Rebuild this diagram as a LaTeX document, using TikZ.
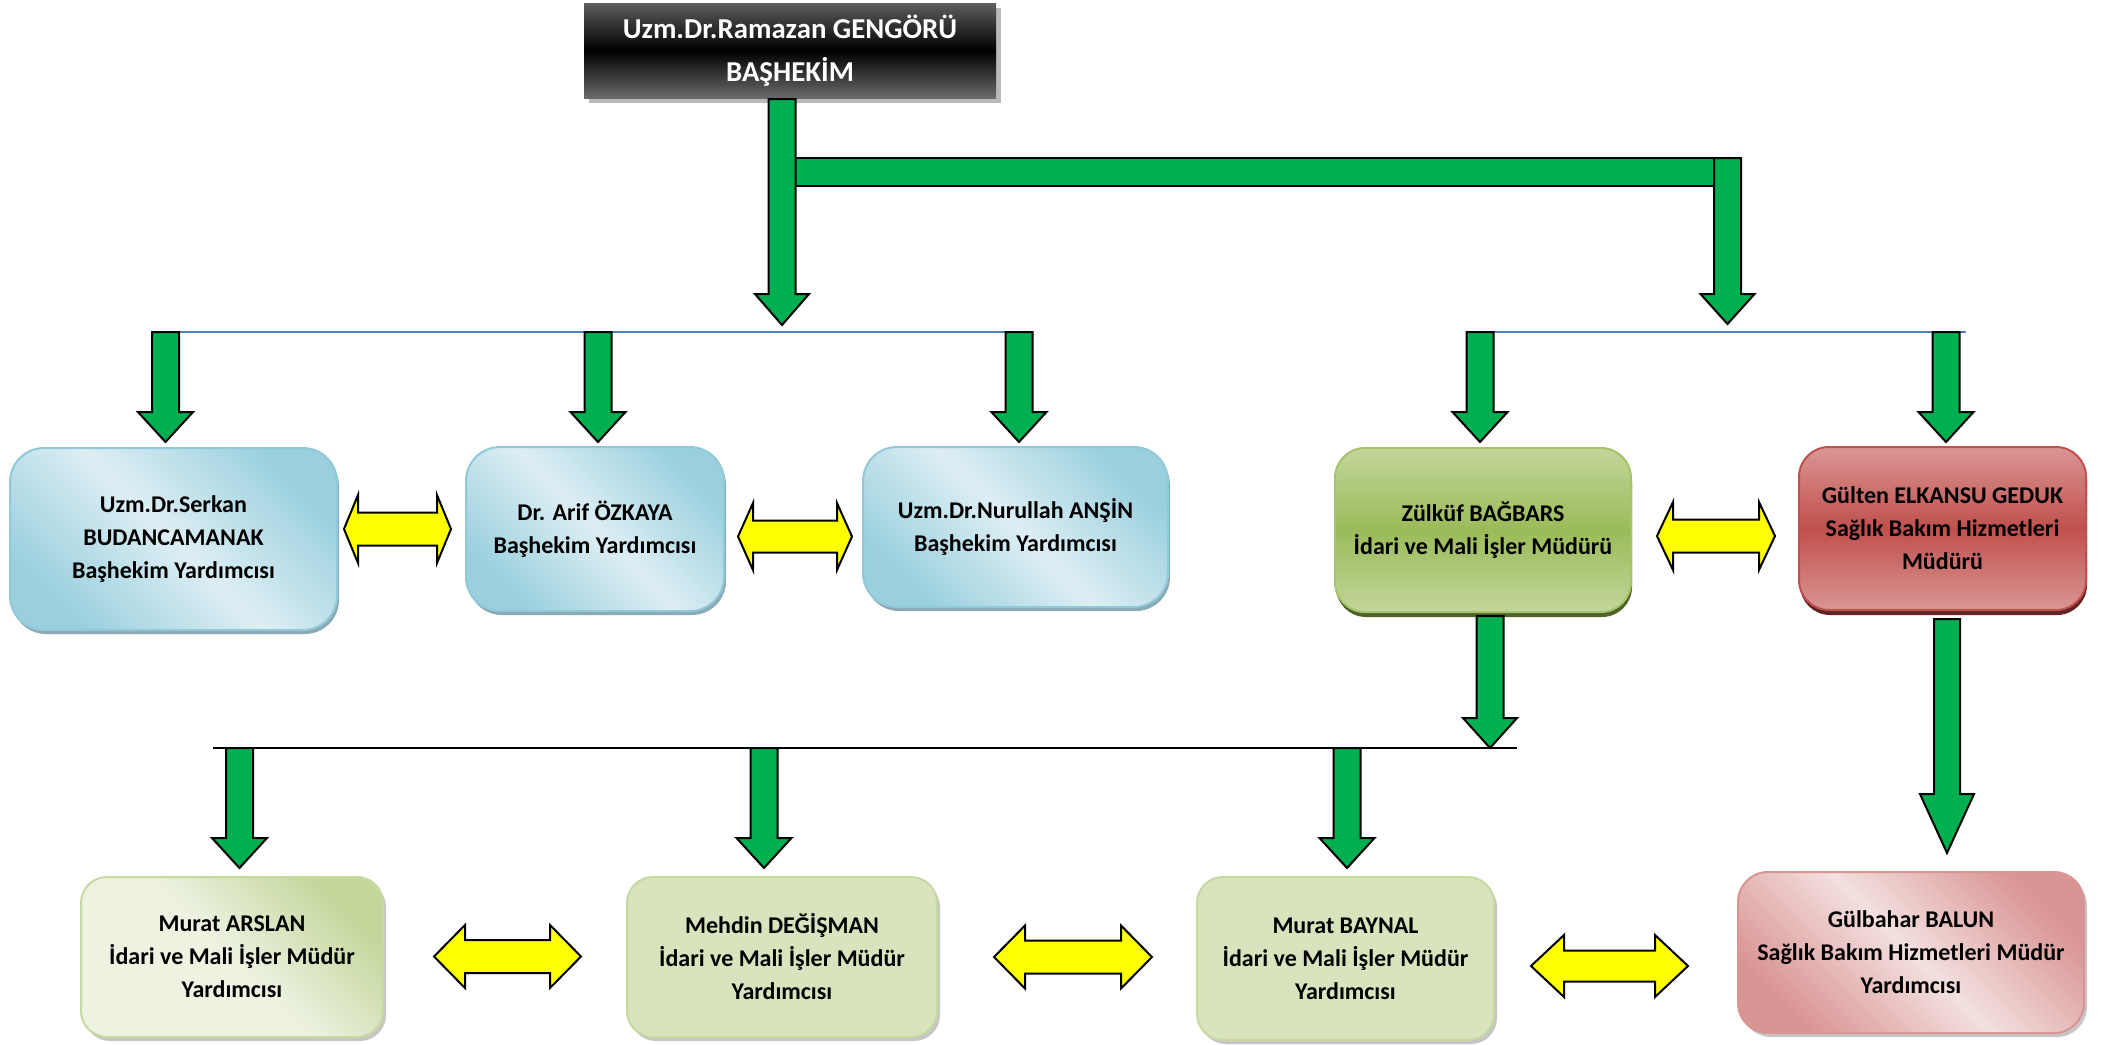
\documentclass[tikz,border=0pt]{standalone}
\usepackage{fontspec}
\setmainfont{Carlito}
\usetikzlibrary{calc,shadows}
\definecolor{garrowc}{HTML}{00B050}
\definecolor{yarrowc}{HTML}{FFFF00}
\definecolor{blueL}{HTML}{DDEEF4}
\definecolor{blueD}{HTML}{9AD0DE}
\definecolor{blueB}{HTML}{92C9D8}
\definecolor{blueS}{HTML}{8AAAB6}
\definecolor{greenL}{HTML}{C3D69B}
\definecolor{greenM}{HTML}{9BBB59}
\definecolor{greenB}{HTML}{A6C46A}
\definecolor{greenS}{HTML}{4F6228}
\definecolor{redL}{HTML}{DA9694}
\definecolor{redM}{HTML}{C0504D}
\definecolor{redB}{HTML}{C0504D}
\definecolor{redS}{HTML}{632523}
\definecolor{lgL}{HTML}{EDF2E1}
\definecolor{lgM}{HTML}{D7E4BD}
\definecolor{lgB}{HTML}{C6D9A0}
\definecolor{pkL}{HTML}{F3E0DF}
\definecolor{pkD}{HTML}{D99594}
\definecolor{topG}{HTML}{5E5E5E}
\definecolor{botG}{HTML}{6A6A6A}
\definecolor{lineBlue}{HTML}{4F81BD}
% green down arrow: #1 start, #2 tip, #3 half shaft, #4 half head, #5 head length (pt)
\newcommand\gdn[5]{%
  \draw[garr] let \p1=(#1), \p2=(#2) in
    (\x2-#3,\y1) -- (\x2+#3,\y1) -- (\x2+#3,\y2+#5) -- (\x2+#4,\y2+#5)
    -- (\x2,\y2) -- (\x2-#4,\y2+#5) -- (\x2-#3,\y2+#5) -- cycle;}
% yellow double arrow: #1 left tip, #2 right tip, #3 half height, #4 half shaft, #5 head length (pt)
\newcommand\ydbl[5]{%
  \draw[yarr] let \p1=(#1), \p2=(#2) in
    (\x1,\y1) -- (\x1+#5,\y1+#3) -- (\x1+#5,\y1+#4) -- (\x2-#5,\y1+#4)
    -- (\x2-#5,\y1+#3) -- (\x2,\y1) -- (\x2-#5,\y1-#3) -- (\x2-#5,\y1-#4)
    -- (\x1+#5,\y1-#4) -- (\x1+#5,\y1-#3) -- cycle;}
\begin{document}
\begin{tikzpicture}[x=0.5pt,y=-0.5pt,
  garr/.style={fill=garrowc, draw=black, line width=1pt, line join=miter},
  yarr/.style={fill=yarrowc, draw=black, line width=1pt, line join=miter},
  boxtxt/.style={align=center, inner sep=0pt, font=\bfseries\fontsize{12pt}{16.5pt}\selectfont},
  topbox/.style={rectangle, inner sep=0pt, align=center, text=white,
    font=\bfseries\fontsize{14.4pt}{21.5pt}\selectfont,
    top color=topG, bottom color=botG, middle color=black,
    drop shadow={shadow xshift=2.5pt, shadow yshift=-2.5pt, fill=gray!55, opacity=1}},
  bluebox/.style={boxtxt, rounded corners=17pt, draw=blueB, line width=1pt,
    top color=blueD, bottom color=blueD, middle color=blueL, shading angle=-45,
    drop shadow={shadow xshift=1pt, shadow yshift=-2pt, fill=blueS, opacity=1}},
  greenbox/.style={boxtxt, rounded corners=15pt, draw=greenB, line width=1pt,
    top color=greenL, bottom color=greenL, middle color=greenM,
    drop shadow={shadow xshift=0.5pt, shadow yshift=-2.5pt, fill=greenS, opacity=1}},
  redbox/.style={boxtxt, rounded corners=15pt, draw=redB, line width=1pt,
    top color=redL, bottom color=redL, middle color=redM,
    drop shadow={shadow xshift=0.5pt, shadow yshift=-2.5pt, fill=redS, opacity=1}},
  lgbox/.style={boxtxt, rounded corners=13pt, draw=lgB, line width=1pt, fill=lgM,
    drop shadow={shadow xshift=1.5pt, shadow yshift=-2pt, fill=gray!45, opacity=1}},
  lgshade/.style={top color=greenL, bottom color=lgL, middle color=lgL, shading angle=-45},
  pkbox/.style={boxtxt, rounded corners=15pt, draw=pkD, line width=1pt,
    top color=pkD, bottom color=pkD, middle color=pkL, shading angle=-45,
    drop shadow={shadow xshift=1.5pt, shadow yshift=-2pt, fill=gray!45, opacity=1}}
]
\fill[white] (0,0) rectangle (2101,1045);
\useasboundingbox (0,0) rectangle (2101,1045);

% ---------------- boxes ----------------
\node[topbox, minimum width=206pt, minimum height=47.5pt] (top) at (790,50.5)
  {Uzm.Dr.Ramazan GENGÖRÜ\\BAŞHEKİM};

\node[bluebox, minimum width=163.5pt, minimum height=91pt] (serkan) at (173.5,539)
  {Uzm.Dr.Serkan\\BUDANCAMANAK\\Başhekim Yardımcısı};
\node[bluebox, minimum width=129pt, minimum height=82pt] (arif) at (595,529)
  {Dr. Arif ÖZKAYA\\Başhekim Yardımcısı};
\node[bluebox, minimum width=152.5pt, minimum height=80pt] (nurullah) at (1015.5,527)
  {Uzm.Dr.Nurullah ANŞİN\\Başhekim Yardımcısı};
\node[greenbox, minimum width=148pt, minimum height=82pt] (zulkuf) at (1483,530)
  {Zülküf BAĞBARS\\İdari ve Mali İşler Müdürü};
\node[redbox, minimum width=143.5pt, minimum height=81.5pt] (gulten) at (1942.5,528.5)
  {Gülten ELKANSU GEDUK\\Sağlık Bakım Hizmetleri\\Müdürü};

\node[lgbox, lgshade, minimum width=151pt, minimum height=80pt] (arslan) at (232,957)
  {Murat ARSLAN\\İdari ve Mali İşler Müdür\\Yardımcısı};
\node[lgbox, minimum width=155pt, minimum height=80pt] (mehdin) at (782,957)
  {Mehdin DEĞİŞMAN\\İdari ve Mali İşler Müdür\\Yardımcısı};
\node[lgbox, minimum width=148.5pt, minimum height=81.5pt] (baynal) at (1345.5,958.5)
  {Murat BAYNAL\\İdari ve Mali İşler Müdür\\Yardımcısı};
\node[pkbox, minimum width=173pt, minimum height=80.5pt] (gulbahar) at (1911,952.5)
  {Gülbahar BALUN\\Sağlık Bakım Hizmetleri Müdür\\Yardımcısı};

% ---------------- coordinates ----------------
\coordinate (mainS) at (782,99);    \coordinate (mainT) at (782,325);
\coordinate (barA) at (795,158);    \coordinate (barB) at (1714,186);
\coordinate (rmS) at (1727.5,158);  \coordinate (rmT) at (1727.5,324);
\coordinate (blA) at (152,332);     \coordinate (blB) at (1033,332);
\coordinate (brA) at (1467,332);    \coordinate (brB) at (1966,332);
\coordinate (bkA) at (213,748);     \coordinate (bkB) at (1517,748);
\coordinate (a1S) at (165.5,332);   \coordinate (a1T) at (165.5,442);
\coordinate (a2S) at (598,332);     \coordinate (a2T) at (598,442);
\coordinate (a3S) at (1019,332);    \coordinate (a3T) at (1019,442);
\coordinate (a4S) at (1480,332);    \coordinate (a4T) at (1480,442);
\coordinate (a5S) at (1946,332);    \coordinate (a5T) at (1946,442);
\coordinate (zkS) at (1490,616);    \coordinate (zkT) at (1490,748);
\coordinate (gtS) at (1947,619);    \coordinate (gtT) at (1947,853);
\coordinate (b1S) at (239.5,748);   \coordinate (b1T) at (239.5,868);
\coordinate (b2S) at (764,748);     \coordinate (b2T) at (764,868);
\coordinate (b3S) at (1347,748);    \coordinate (b3T) at (1347,868);

% ---------------- lines ----------------
\draw[lineBlue, line width=1.2pt] (blA) -- (blB);
\draw[lineBlue, line width=1.2pt] (brA) -- (brB);
\draw[black, line width=1.3pt] (bkA) -- (bkB);

% ---------------- green arrows ----------------
\draw[garr] (barA) rectangle (barB);
\gdn{mainS}{mainT}{6.75pt}{13.5pt}{15.5pt}
\gdn{rmS}{rmT}{6.75pt}{13.5pt}{15pt}
\gdn{a1S}{a1T}{6.75pt}{13.75pt}{15pt}
\gdn{a2S}{a2T}{6.75pt}{13.75pt}{15pt}
\gdn{a3S}{a3T}{6.75pt}{13.75pt}{15pt}
\gdn{a4S}{a4T}{6.75pt}{13.75pt}{15pt}
\gdn{a5S}{a5T}{6.75pt}{13.75pt}{15pt}
\gdn{zkS}{zkT}{6.75pt}{13.5pt}{15pt}
\gdn{gtS}{gtT}{6.5pt}{13.5pt}{29.5pt}
\gdn{b1S}{b1T}{6.75pt}{13.75pt}{15pt}
\gdn{b2S}{b2T}{6.75pt}{13.75pt}{15pt}
\gdn{b3S}{b3T}{6.75pt}{13.75pt}{15pt}

% ---------------- yellow double arrows ----------------
\coordinate (y1a) at (344,529);    \coordinate (y1b) at (451,529);
\coordinate (y2a) at (738,536.5);  \coordinate (y2b) at (852,536.5);
\coordinate (y3a) at (1657,536);   \coordinate (y3b) at (1775,536);
\coordinate (y4a) at (434,956.5);  \coordinate (y4b) at (581,956.5);
\coordinate (y5a) at (994,957);    \coordinate (y5b) at (1152,957);
\coordinate (y6a) at (1531,966);   \coordinate (y6b) at (1688,966);
\ydbl{y1a}{y1b}{17pt}{8.25pt}{7pt}
\ydbl{y2a}{y2b}{16.75pt}{8pt}{7.5pt}
\ydbl{y3a}{y3b}{17pt}{8.25pt}{8pt}
\ydbl{y4a}{y4b}{15.75pt}{8.25pt}{15.5pt}
\ydbl{y5a}{y5b}{15.75pt}{8.25pt}{15.5pt}
\ydbl{y6a}{y6b}{15.5pt}{7.75pt}{16.5pt}
\end{tikzpicture}
\end{document}
